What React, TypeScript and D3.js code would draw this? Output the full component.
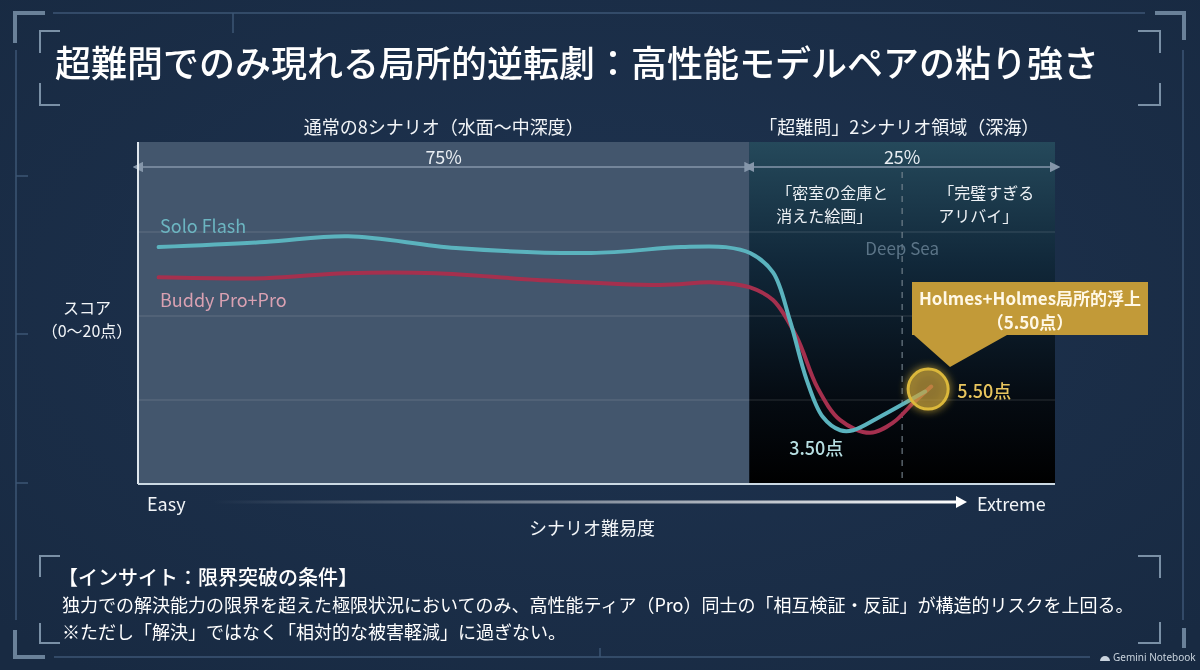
import React from 'react';
import * as d3 from 'd3';

const W = 1200;
const H = 670;

// ---- data ----
const titleText = '超難問でのみ現れる局所的逆転劇：高性能モデルペアの粘り強さ';
const seriesNames = ['Solo Flash', 'Buddy Pro+Pro'];

// difficulty position (0 = Easy … 12 = Extreme) and score (0–20)
const soloDifficulty = [0.27, 1.66, 2.75, 4.16, 5.93, 7.11, 7.69, 8.01, 8.31, 8.53, 8.75, 8.96, 9.19, 9.36, 9.71, 10.3];
const soloScore = [14.1, 14.4, 14.75, 14.05, 13.75, 14.1, 14.1, 13.75, 12.6, 9.75, 6.2, 4.0, 3.2, 3.2, 4.0, 5.5];
const buddyDifficulty = [0.27, 1.66, 2.72, 3.9, 5.23, 6.83, 7.54, 8.01, 8.31, 8.62, 8.89, 9.19, 9.58, 9.88, 10.14, 10.38];
const buddyScore = [12.3, 12.25, 12.55, 12.55, 12.15, 11.85, 12.0, 11.7, 10.95, 8.75, 5.75, 3.8, 3.05, 3.65, 4.8, 5.8];

const gridScores = [5, 10, 15];
const regionStart = [0, 8];
const regionEnd = [8, 12];
const regionTitles = ['通常の8シナリオ（水面〜中深度）', '「超難問」2シナリオ領域（深海）'];
const regionShares = ['75%', '25%'];
const hardScenarioLines = [
  ['「密室の金庫と', '消えた絵画」'],
  ['「完璧すぎる', 'アリバイ」'],
];
const hardScenarioStart = [8, 10];
const scenarioDivider = 10;
const deepSeaLabel = 'Deep Sea';
const minScoreLabel = '3.50点';
const peakScoreLabel = '5.50点';
const calloutLines = ['Holmes+Holmes局所的浮上', '（5.50点）'];
const yAxisLines = ['スコア', '（0〜20点）'];
const xAxisEnds = ['Easy', 'Extreme'];
const xAxisTitle = 'シナリオ難易度';
const insightTitle = '【インサイト：限界突破の条件】';
const insightLines = [
  '独力での解決能力の限界を超えた極限状況においてのみ、高性能ティア（Pro）同士の「相互検証・反証」が構造的リスクを上回る。',
  '※ただし「解決」ではなく「相対的な被害軽減」に過ぎない。',
];

const FONT = "'Noto Sans CJK JP', 'Noto Sans', sans-serif";

export default function App() {
  const x = d3.scaleLinear().domain([0, 12]).range([138, 1055]);
  const y = d3.scaleLinear().domain([0, 20]).range([484, 148]);
  const plotTop = 142;
  const plotBottom = y(0);

  const line = d3
    .line<[number, number]>()
    .x((d) => x(d[0]))
    .y((d) => y(d[1]))
    .curve(d3.curveCatmullRom.alpha(0.5));

  const soloPts: [number, number][] = soloDifficulty.map((d, i) => [d, soloScore[i]]);
  const buddyPts: [number, number][] = buddyDifficulty.map((d, i) => [d, buddyScore[i]]);

  const soloMinIdx = d3.minIndex(soloScore);
  const endX = (x(soloDifficulty[soloDifficulty.length - 1]) + x(buddyDifficulty[buddyDifficulty.length - 1])) / 2;
  const endY = (y(soloScore[soloScore.length - 1]) + y(buddyScore[buddyScore.length - 1])) / 2;

  const frame = '#3c5674';
  const frameThick = '#6a8199';
  const frameInner = '#7a90a6';

  return (
    <svg
      width={W}
      height={H}
      viewBox={`0 0 ${W} ${H}`}
      style={{ position: 'fixed', left: 0, top: 0, display: 'block', fontFamily: FONT }}
    >
      <defs>
        <linearGradient id="deep" x1="0" y1="0" x2="0" y2="1">
          <stop offset="0%" stopColor="#25495b" />
          <stop offset="35%" stopColor="#11283a" />
          <stop offset="75%" stopColor="#050b12" />
          <stop offset="100%" stopColor="#000000" />
        </linearGradient>
        <linearGradient id="axisArrow" gradientUnits="userSpaceOnUse" x1="212" y1="0" x2="958" y2="0">
          <stop offset="0%" stopColor="#ffffff" stopOpacity={0} />
          <stop offset="45%" stopColor="#ffffff" stopOpacity={0.4} />
          <stop offset="100%" stopColor="#ffffff" stopOpacity={1} />
        </linearGradient>
        <radialGradient id="bgGlow" cx="0.5" cy="0.45" r="0.7">
          <stop offset="0%" stopColor="#1e3350" />
          <stop offset="100%" stopColor="#182a42" />
        </radialGradient>
        <filter id="glow" x="-1" y="-1" width="3" height="3">
          <feGaussianBlur stdDeviation="4" result="b" />
          <feMerge>
            <feMergeNode in="b" />
            <feMergeNode in="SourceGraphic" />
          </feMerge>
        </filter>
        <marker id="arrL" viewBox="0 0 10 10" refX="1" refY="5" markerWidth="7" markerHeight="7" orient="auto-start-reverse">
          <path d="M0,0 L10,5 L0,10 z" fill="#8596aa" />
        </marker>
      </defs>

      {/* background */}
      <rect x={0} y={0} width={W} height={H} fill="url(#bgGlow)" />

      {/* decorative frame */}
      <g fill="none">
        <line x1={53} y1={13} x2={1145} y2={13} stroke={frame} strokeWidth={1.5} />
        <line x1={233} y1={13} x2={233} y2={33} stroke={frame} strokeWidth={1.5} />
        <line x1={16} y1={50} x2={16} y2={620} stroke={frame} strokeWidth={1.5} />
        <line x1={1183} y1={50} x2={1183} y2={620} stroke={frame} strokeWidth={1.5} />
        {[176, 334, 483].map((ty) => (
          <line key={ty} x1={16} y1={ty} x2={28} y2={ty} stroke={frame} strokeWidth={1.5} />
        ))}
        <line x1={54} y1={657} x2={1090} y2={657} stroke={frame} strokeWidth={1.5} />
        <line x1={600} y1={648} x2={600} y2={657} stroke={frame} strokeWidth={1.5} />
        {/* thick corners */}
        <path d="M15,43 V13 H45" stroke={frameThick} strokeWidth={4} />
        <path d="M1155,13 H1184 V40" stroke={frameThick} strokeWidth={4} />
        <path d="M15,630 V657 H45" stroke={frameThick} strokeWidth={4} />
        <path d="M1184,628 V648" stroke={frameThick} strokeWidth={4} />
        {/* inner brackets title */}
        <path d="M60,31 H40 V53" stroke={frameInner} strokeWidth={2} />
        <path d="M40,83 V105 H60" stroke={frameInner} strokeWidth={2} />
        <path d="M1138,31 H1160 V53" stroke={frameInner} strokeWidth={2} />
        <path d="M1160,83 V105 H1138" stroke={frameInner} strokeWidth={2} />
        {/* inner brackets insight */}
        <path d="M60,556 H40 V577" stroke={frameInner} strokeWidth={2} />
        <path d="M40,623 V643 H60" stroke={frameInner} strokeWidth={2} />
        <path d="M1138,556 H1160 V578" stroke={frameInner} strokeWidth={2} />
        <path d="M1160,622 V643 H1138" stroke={frameInner} strokeWidth={2} />
      </g>

      {/* title */}
      <text x={55} y={77} fontSize={36} fill="#ffffff" fontWeight={500}>
        {titleText}
      </text>

      {/* regions */}
      <rect
        x={x(regionStart[0])}
        y={plotTop}
        width={x(regionEnd[0]) - x(regionStart[0])}
        height={plotBottom - plotTop}
        fill="#43566d"
      />
      <rect
        x={x(regionStart[1])}
        y={plotTop}
        width={x(regionEnd[1]) - x(regionStart[1])}
        height={plotBottom - plotTop}
        fill="url(#deep)"
      />

      {/* gridlines */}
      {gridScores.map((g) => (
        <line
          key={g}
          x1={x(0)}
          x2={x(12)}
          y1={y(g)}
          y2={y(g)}
          stroke="#ffffff"
          strokeOpacity={0.1}
          strokeWidth={1.5}
        />
      ))}

      {/* scenario divider */}
      <line
        x1={x(scenarioDivider)}
        x2={x(scenarioDivider)}
        y1={172}
        y2={plotBottom}
        stroke="#7d8a96"
        strokeOpacity={0.7}
        strokeWidth={1.5}
        strokeDasharray="6,6"
      />

      {/* region headers */}
      {regionTitles.map((t, i) => {
        const cx = (x(regionStart[i]) + x(regionEnd[i])) / 2;
        return (
          <g key={t}>
            <text x={cx + (i === 0 ? 0 : -3)} y={126} fontSize={18} fill="#f2f5f8" textAnchor="middle" dominantBaseline="central">
              {t}
            </text>
            <text x={cx} y={156} fontSize={18} fill="#e9eef3" textAnchor="middle" dominantBaseline="central">
              {regionShares[i]}
            </text>
            <line
              x1={x(regionStart[i]) + 4}
              x2={x(regionEnd[i]) - 4}
              y1={167}
              y2={167}
              stroke="#8596aa"
              strokeWidth={1.5}
              markerStart="url(#arrL)"
              markerEnd="url(#arrL)"
            />
          </g>
        );
      })}

      {/* hard scenario names */}
      {hardScenarioLines.map((lines, i) =>
        lines.map((l, j) => (
          <text
            key={`${i}-${j}`}
            x={x(hardScenarioStart[i]) + (i === 0 ? 27 : 36)}
            y={192 + j * 23}
            fontSize={16}
            fill="#eef2f6"
            dominantBaseline="central"
          >
            {l}
          </text>
        ))
      )}

      <text x={x(scenarioDivider)} y={247} fontSize={17} fill="#5b7487" textAnchor="middle" dominantBaseline="central">
        {deepSeaLabel}
      </text>

      {/* axes */}
      <line x1={x(0)} x2={x(0)} y1={plotTop} y2={plotBottom} stroke="#dfe7ee" strokeWidth={2} />
      <line x1={x(0)} x2={x(12)} y1={plotBottom} y2={plotBottom} stroke="#cbd9e3" strokeWidth={2} />

      {/* series */}
      <path d={line(buddyPts) || ''} fill="none" stroke="#a5304e" strokeWidth={4} strokeLinecap="round" />
      <path d={line(soloPts) || ''} fill="none" stroke="#5bb3be" strokeWidth={4} strokeLinecap="round" />

      <text x={160} y={225} fontSize={18} fill="#6cb5c1" dominantBaseline="central">
        {seriesNames[0]}
      </text>
      <text x={160} y={299} fontSize={18} fill="#d9a1b2" dominantBaseline="central">
        {seriesNames[1]}
      </text>

      {/* min label */}
      <text
        x={x(soloDifficulty[soloMinIdx]) - 24}
        y={y(soloScore[soloMinIdx]) + 17}
        fontSize={18}
        fill="#b7dfe2"
        fontWeight={500}
        textAnchor="middle"
        dominantBaseline="central"
      >
        {minScoreLabel}
      </text>

      {/* highlight circle */}
      <g filter="url(#glow)">
        <circle cx={endX} cy={endY} r={20} fill="#c9a23a" fillOpacity={0.45} stroke="#dcb83a" strokeWidth={3} />
      </g>
      <text x={endX + 29} y={endY + 1} fontSize={18} fill="#e8c55e" fontWeight={500} dominantBaseline="central">
        {peakScoreLabel}
      </text>

      {/* callout */}
      <path d="M912,282 H1148 V335 H1007 L950,367 L914,335 H912 Z" fill="#c29a38" />
      {calloutLines.map((l, i) => (
        <text
          key={i}
          x={1030}
          y={297 + i * 24}
          fontSize={17}
          fill="#fff8e6"
          fontWeight={600}
          textAnchor="middle"
          dominantBaseline="central"
        >
          {l}
        </text>
      ))}

      {/* y axis label */}
      {yAxisLines.map((l, i) => (
        <text key={i} x={87} y={307 + i * 23} fontSize={16} fill="#f2f5f8" textAnchor="middle" dominantBaseline="central">
          {l}
        </text>
      ))}

      {/* x axis */}
      <text x={147} y={503} fontSize={18} fill="#f2f5f8" dominantBaseline="central">
        {xAxisEnds[0]}
      </text>
      <rect x={212} y={500.5} width={746} height={3} fill="url(#axisArrow)" />
      <path d="M956,496 L967,502 L956,508 Z" fill="#ffffff" />
      <text x={977} y={503} fontSize={18} fill="#f2f5f8" dominantBaseline="central">
        {xAxisEnds[1]}
      </text>
      <text x={592} y={527} fontSize={18} fill="#f2f5f8" textAnchor="middle" dominantBaseline="central">
        {xAxisTitle}
      </text>

      {/* insight */}
      <text x={58} y={576} fontSize={20} fill="#ffffff" fontWeight={500} dominantBaseline="central">
        {insightTitle}
      </text>
      {insightLines.map((l, i) => (
        <text key={i} x={62} y={604 + i * 27} fontSize={18} fill="#ffffff" dominantBaseline="central">
          {l}
        </text>
      ))}

      {/* watermark */}
      <g transform="translate(1100,657)">
        <path d="M0,4 A5,5 0 0 1 10,4 Z" fill="#c9d3dd" />
        <text x={13} y={0} fontSize={10} fill="#c9d3dd" dominantBaseline="central" fontFamily="'Noto Sans', sans-serif">
          Gemini Notebook
        </text>
      </g>
    </svg>
  );
}
